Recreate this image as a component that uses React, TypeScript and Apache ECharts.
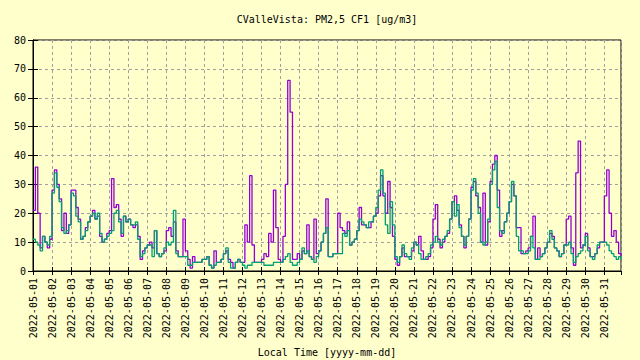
import React, { useEffect, useRef } from "react";
import * as echarts from "echarts";

// PM2.5 CF1 readings, one value every 3 hours from 2022-05-01 00:00 (8 per day)
const stepHours = 3;
const dayLabels = [
  "2022-05-01", "2022-05-02", "2022-05-03", "2022-05-04", "2022-05-05", "2022-05-06",
  "2022-05-07", "2022-05-08", "2022-05-09", "2022-05-10", "2022-05-11", "2022-05-12",
  "2022-05-13", "2022-05-14", "2022-05-15", "2022-05-16", "2022-05-17", "2022-05-18",
  "2022-05-19", "2022-05-20", "2022-05-21", "2022-05-22", "2022-05-23", "2022-05-24",
  "2022-05-25", "2022-05-26", "2022-05-27", "2022-05-28", "2022-05-29", "2022-05-30",
  "2022-05-31",
];
const yTicks = [0, 10, 20, 30, 40, 50, 60, 70, 80];

// channel A (purple)
const pmA = [
  21, 36, 20, 8, 12, 10, 8, 11,
  28, 35, 30, 25, 14, 20, 13, 16,
  28, 28, 22, 18, 11, 12, 15, 17,
  19, 21, 18, 19, 12, 10, 11, 13,
  14, 32, 22, 23, 18, 12, 19, 17,
  18, 16, 15, 16, 12, 4, 7, 8,
  9, 10, 8, 14, 6, 5, 6, 7,
  14, 15, 12, 17, 7, 5, 5, 18,
  7, 4, 1, 5, 3, 3, 3, 4,
  4, 5, 2, 1, 7, 3, 3, 4,
  6, 7, 4, 3, 1, 3, 4, 3,
  3, 16, 10, 33, 9, 3, 3, 3,
  4, 6, 5, 13, 10, 28, 15, 4,
  3, 12, 30, 66, 55, 4, 4, 6,
  4, 7, 6, 16, 5, 4, 18, 6,
  7, 10, 13, 25, 5, 5, 6, 6,
  20, 15, 14, 13, 17, 9, 10, 11,
  14, 22, 16, 16, 15, 15, 17, 19,
  20, 26, 33, 26, 20, 31, 22, 12,
  4, 2, 5, 8, 5, 5, 5, 7,
  10, 9, 12, 7, 4, 4, 5, 8,
  18, 23, 11, 8, 10, 12, 13, 18,
  24, 26, 21, 16, 12, 8, 12, 18,
  29, 31, 26, 22, 10, 27, 9, 17,
  31, 37, 40, 28, 12, 14, 17, 20,
  24, 30, 26, 15, 15, 6, 6, 7,
  8, 12, 19, 4, 8, 5, 6, 8,
  10, 13, 12, 8, 7, 5, 6, 9,
  18, 19, 8, 2, 34, 45, 8, 9,
  13, 8, 5, 5, 6, 8, 10, 10,
  26, 35, 20, 12, 14, 10, 6, 5,
];

// channel B (teal)
const pmB = [
  11, 10, 9, 7, 12, 10, 9, 12,
  27, 34, 29, 24, 15, 13, 14, 16,
  27, 26, 19, 17, 11, 12, 14, 17,
  19, 20, 18, 20, 13, 10, 11, 12,
  13, 14, 20, 21, 17, 13, 19, 17,
  18, 16, 16, 17, 11, 5, 6, 8,
  9, 9, 5, 14, 6, 5, 6, 8,
  10, 9, 10, 21, 6, 5, 5, 5,
  5, 2, 2, 3, 3, 3, 3, 4,
  4, 5, 2, 1, 2, 3, 3, 4,
  6, 8, 3, 1, 1, 3, 4, 3,
  2, 1, 2, 2, 3, 3, 3, 3,
  3, 2, 2, 2, 2, 3, 3, 3,
  3, 4, 5, 6, 3, 2, 2, 3,
  4, 8, 6, 7, 5, 4, 3, 5,
  7, 10, 13, 15, 5, 5, 6, 6,
  6, 6, 13, 12, 14, 9, 10, 11,
  14, 18, 17, 16, 15, 17, 17, 19,
  22, 28, 35, 27, 16, 13, 24, 16,
  5, 3, 5, 9, 6, 5, 4, 8,
  10, 9, 6, 4, 4, 5, 6, 9,
  10, 12, 10, 9, 11, 12, 14, 18,
  24, 19, 23, 15, 12, 9, 12, 18,
  28, 32, 27, 20, 10, 9, 10, 18,
  30, 35, 38, 22, 14, 13, 17, 20,
  24, 31, 26, 12, 7, 7, 6, 6,
  7, 12, 8, 4, 4, 5, 6, 8,
  10, 14, 11, 8, 7, 5, 6, 9,
  9, 10, 6, 3, 5, 6, 7, 9,
  12, 7, 5, 4, 6, 9, 10, 10,
  10, 9, 7, 6, 5, 4, 5, 4,
];

const FONT = "DejaVu Sans Mono";

export default function App() {
  const ref = useRef<HTMLDivElement>(null);
  useEffect(() => {
    if (!ref.current) return;
    const chart = echarts.init(ref.current, undefined, { renderer: "svg" });
    const toDays = (i: number) => (i * stepHours) / 24;
    const dataA = pmA.map((v, i) => [toDays(i), v]);
    const dataB = pmB.map((v, i) => [toDays(i), v]);
    const xMax = toDays(pmA.length - 1);
    const yMin = yTicks[0];
    const yMax = yTicks[yTicks.length - 1];
    const yInt = yTicks[1] - yTicks[0];
    const gridLine = { show: true, lineStyle: { color: "#a0a0a0", width: 1, type: [3, 3] } };
    const option: any = {
      animation: false,
      backgroundColor: "#ffffcc",
      grid: {
        left: 33, right: 19, top: 40, bottom: 89,
        show: true, borderColor: "#000", borderWidth: 1, backgroundColor: "transparent",
      },
      xAxis: [
        {
          type: "value", min: 0, max: xMax, interval: 1, position: "bottom",
          axisLine: { show: true, lineStyle: { color: "#000", width: 1 } },
          axisTick: { show: true, inside: true, length: 4, lineStyle: { color: "#000" } },
          axisLabel: {
            rotate: 90, margin: 7, color: "#000", fontFamily: FONT, fontSize: 10,
            showMaxLabel: false,
            formatter: (v: number) => (Number.isInteger(v) && dayLabels[v] ? dayLabels[v] : ""),
          },
          splitLine: gridLine,
        },
        {
          type: "value", min: 0, max: xMax, interval: 1, position: "top",
          axisLine: { show: true, lineStyle: { color: "#000", width: 1 } },
          axisTick: { show: true, inside: true, length: 4, lineStyle: { color: "#000" } },
          axisLabel: { show: false },
          splitLine: { show: false },
        },
      ],
      yAxis: [
        {
          type: "value", min: yMin, max: yMax, interval: yInt, position: "left",
          axisLine: { show: true, lineStyle: { color: "#000", width: 1 } },
          axisTick: { show: true, inside: true, length: 5, lineStyle: { color: "#000" } },
          axisLabel: { margin: 7, color: "#000", fontFamily: FONT, fontSize: 10 },
          splitLine: gridLine,
        },
        {
          type: "value", min: yMin, max: yMax, interval: yInt, position: "right",
          axisLine: { show: true, lineStyle: { color: "#000", width: 1 } },
          axisTick: { show: true, inside: true, length: 5, lineStyle: { color: "#000" } },
          axisLabel: { show: false },
          splitLine: { show: false },
        },
      ],
      series: [
        {
          type: "line", name: "A", data: dataA, step: "end", symbol: "none",
          xAxisIndex: 0, yAxisIndex: 0,
          lineStyle: { color: "#9400d3", width: 1.3 }, itemStyle: { color: "#9400d3" },
        },
        {
          type: "line", name: "B", data: dataB, step: "end", symbol: "none",
          xAxisIndex: 0, yAxisIndex: 0,
          lineStyle: { color: "#009e73", width: 1.3 }, itemStyle: { color: "#009e73" },
        },
      ],
      graphic: [
        {
          type: "text", x: 327, y: 19,
          style: {
            text: "CValleVista: PM2,5 CF1 [ug/m3]", fill: "#000",
            fontFamily: FONT, fontSize: 10, textAlign: "center", textVerticalAlign: "middle",
          },
        },
        {
          type: "text", x: 327, y: 352,
          style: {
            text: "Local Time [yyyy-mm-dd]", fill: "#000",
            fontFamily: FONT, fontSize: 10, textAlign: "center", textVerticalAlign: "middle",
          },
        },
      ],
    };
    chart.setOption(option);
    return () => chart.dispose();
  }, []);
  return (
    <div
      ref={ref}
      style={{ position: "absolute", left: 0, top: 0, width: 640, height: 360 }}
    />
  );
}
